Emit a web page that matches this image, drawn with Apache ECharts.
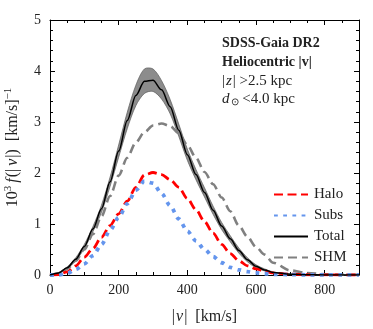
<!DOCTYPE html>
<html>
<head>
<meta charset="utf-8">
<script src="https://cdn.jsdelivr.net/npm/echarts@6/dist/echarts.min.js"></script>
<style>
  html, body { margin: 0; padding: 0; background: #fff; }
  #chart { width: 373px; height: 329px; }
</style>
</head>
<body>
<div id="chart"></div>
<script>
// speed grid |v| in km/s
const speeds = [0, 25, 50, 75, 100, 125, 150, 175, 200, 225, 250, 275, 300, 325, 350, 375, 400,
  425, 450, 475, 500, 525, 550, 575, 600, 625, 650, 700, 750, 800, 850, 900]

// 10^3 f(|v|)
const halo = [0, 0.01, 0.06, 0.18, 0.35, 0.52, 0.74, 0.97, 1.2, 1.45, 1.72, 1.96, 2.01, 1.97, 1.87, 1.72, 1.5,
  1.28, 1.05, 0.82, 0.6, 0.42, 0.28, 0.18, 0.12, 0.075, 0.04, 0.015, 0.005, 0.001, 0, 0]
const subs = [0, 0, 0.03, 0.11, 0.22, 0.38, 0.6, 0.88, 1.13, 1.4, 1.66, 1.84, 1.8, 1.6, 1.36, 1.1, 0.86,
  0.67, 0.5, 0.36, 0.24, 0.15, 0.1, 0.065, 0.04, 0.025, 0.015, 0.008, 0.004, 0.002, 0.001, 0.001]
const total = [0, 0.04, 0.14, 0.31, 0.56, 0.9, 1.3, 1.83, 2.43, 3.03, 3.52, 3.8, 3.82, 3.63, 3.3, 2.84, 2.36,
  1.97, 1.62, 1.27, 0.96, 0.71, 0.48, 0.3, 0.17, 0.1, 0.05, 0.015, 0.004, 0.001, 0, 0]
const totalErr = [0, 0.01, 0.02, 0.03, 0.04, 0.05, 0.07, 0.09, 0.12, 0.16, 0.2, 0.24, 0.22, 0.18, 0.14, 0.12, 0.11,
  0.1, 0.09, 0.08, 0.07, 0.06, 0.05, 0.04, 0.03, 0.02, 0.01, 0.005, 0, 0, 0, 0]
const shm = [0, 0.03, 0.12, 0.28, 0.5, 0.8, 1.15, 1.55, 1.95, 2.3, 2.6, 2.8, 2.93, 2.97, 2.92, 2.78, 2.55,
  2.3, 2.02, 1.78, 1.52, 1.25, 0.97, 0.75, 0.55, 0.4, 0.24, 0.09, 0.04, 0.015, 0.005, 0.002]

const xTicks = [0, 200, 400, 600, 800]
const yTicks = [0, 1, 2, 3, 4, 5]
const infoLines = [
  'SDSS-Gaia DR2',
  'Heliocentric |v|',
  '{n||}{i|z}{n|| >2.5 kpc}',
  '{i|d}{s|⊙} {n|<4.0 kpc}'
]

const pairs = arr => speeds.map((v, i) => [v, arr[i]])
const font = 'Liberation Serif'

const chart = echarts.init(document.getElementById('chart'))

const axisCommon = {
  axisLine: { show: true, onZero: false, lineStyle: { color: '#000', width: 1 } },
  axisTick: { show: true, inside: true, length: 5, lineStyle: { color: '#000' } },
  minorTick: { show: true, length: 3, lineStyle: { color: '#000' } },
  splitLine: { show: false }
}

// shaded uncertainty band around the total, drawn through the axis scales
const renderBand = (params, api) => {
  const upper = speeds.map((v, i) => api.coord([v, total[i] + totalErr[i]]))
  const lower = speeds.map((v, i) => api.coord([v, Math.max(total[i] - totalErr[i], 0)])).reverse()
  return {
    type: 'polygon',
    shape: { points: upper.concat(lower), smooth: 0.3 },
    style: { fill: '#8c8c8c', stroke: '#5a5a5a', lineWidth: 0.7 }
  }
}

const lineCommon = { type: 'line', symbol: 'none', smooth: 0.3, smoothMonotone: 'x' }

const option = {
  animation: false,
  backgroundColor: '#fff',
  grid: { left: 50, right: 14, top: 20, bottom: 54, containLabel: false, outerBoundsMode: 'none' },
  xAxis: [
    {
      ...axisCommon,
      type: 'value', min: 0, max: 900, interval: 200,
      minorTick: { ...axisCommon.minorTick, splitNumber: 4 },
      axisLabel: {
        color: '#222', fontFamily: font, fontSize: 14, margin: 8,
        formatter: v => xTicks.includes(v) ? String(v) : ''
      },
      name: '{n||}{i|v}{n||  [km/s]}',
      nameLocation: 'middle', nameGap: 34,
      nameTextStyle: {
        rich: {
          n: { fontFamily: font, fontSize: 16, color: '#222' },
          i: { fontFamily: font, fontSize: 16, fontStyle: 'italic', color: '#222', padding: [0, 1, 0, 1] }
        }
      }
    },
    {
      ...axisCommon,
      type: 'value', min: 0, max: 900, interval: 200, position: 'top',
      minorTick: { ...axisCommon.minorTick, splitNumber: 4 },
      axisLabel: { show: false }
    }
  ],
  yAxis: [
    {
      ...axisCommon,
      type: 'value', min: 0, max: 5, interval: 1,
      minorTick: { ...axisCommon.minorTick, splitNumber: 5 },
      axisLabel: {
        color: '#222', fontFamily: font, fontSize: 14, margin: 9,
        formatter: v => yTicks.includes(v) ? String(v) : ''
      },
      name: '{n|10}{s|3}{i|f}{n|(|}{i|v}{n||)  [km/s]}{s|−1}',
      nameLocation: 'middle', nameGap: 28, nameRotate: 90,
      nameTextStyle: {
        rich: {
          n: { fontFamily: font, fontSize: 16, color: '#222' },
          i: { fontFamily: font, fontSize: 16, fontStyle: 'italic', color: '#222', padding: [0, 1, 0, 3] },
          s: { fontFamily: font, fontSize: 11, color: '#222', padding: [0, 0, 8, 0] }
        }
      }
    },
    {
      ...axisCommon,
      type: 'value', min: 0, max: 5, interval: 1, position: 'right',
      minorTick: { ...axisCommon.minorTick, splitNumber: 5 },
      axisLabel: { show: false }
    }
  ],
  legend: {
    data: ['Halo', 'Subs', 'Total', 'SHM'],
    orient: 'vertical',
    left: 268, top: 182,
    itemWidth: 34, itemHeight: 14, itemGap: 6,
    itemStyle: { color: 'rgba(0,0,0,0)', borderWidth: 0, opacity: 0 },
    textStyle: { fontFamily: font, fontSize: 15, color: '#222', padding: [0, 0, 0, 1] }
  },
  graphic: infoLines.map((t, i) => ({
    type: 'text',
    z: 100,
    left: 222,
    top: [36, 55, 74, 92][i],
    style: {
      text: t,
      font: (i < 2 ? 'bold 14px ' : '15px ') + font,
      fill: '#222',
      rich: {
        i: { fontFamily: font, fontSize: 15, fontStyle: 'italic', fill: '#222', padding: [0, 1, 0, 1] },
        s: { fontFamily: font, fontSize: 10, fill: '#222', padding: [6, 0, 0, 0] },
        n: { fontFamily: font, fontSize: 15, fill: '#222' }
      }
    }
  })),
  series: [
    {
      name: 'band', type: 'custom', silent: true, z: 1,
      data: [[0, 0]],
      renderItem: renderBand
    },
    {
      ...lineCommon, name: 'SHM', data: pairs(shm),
      itemStyle: { color: '#808080' },
      lineStyle: { color: '#808080', width: 2.6, type: [9, 5] }
    },
    {
      ...lineCommon, name: 'Halo', data: pairs(halo),
      itemStyle: { color: '#ff0000' },
      lineStyle: { color: '#ff0000', width: 2.8, type: [9, 4.5] }
    },
    {
      ...lineCommon, name: 'Subs', data: pairs(subs),
      itemStyle: { color: '#6495ed' },
      lineStyle: { color: '#6495ed', width: 3.8, type: [3.8, 5.4] }
    },
    {
      ...lineCommon, name: 'Total', data: pairs(total),
      itemStyle: { color: '#000' },
      lineStyle: { color: '#000', width: 1.5 }
    }
  ]
}

chart.setOption(option)
</script>
</body>
</html>
